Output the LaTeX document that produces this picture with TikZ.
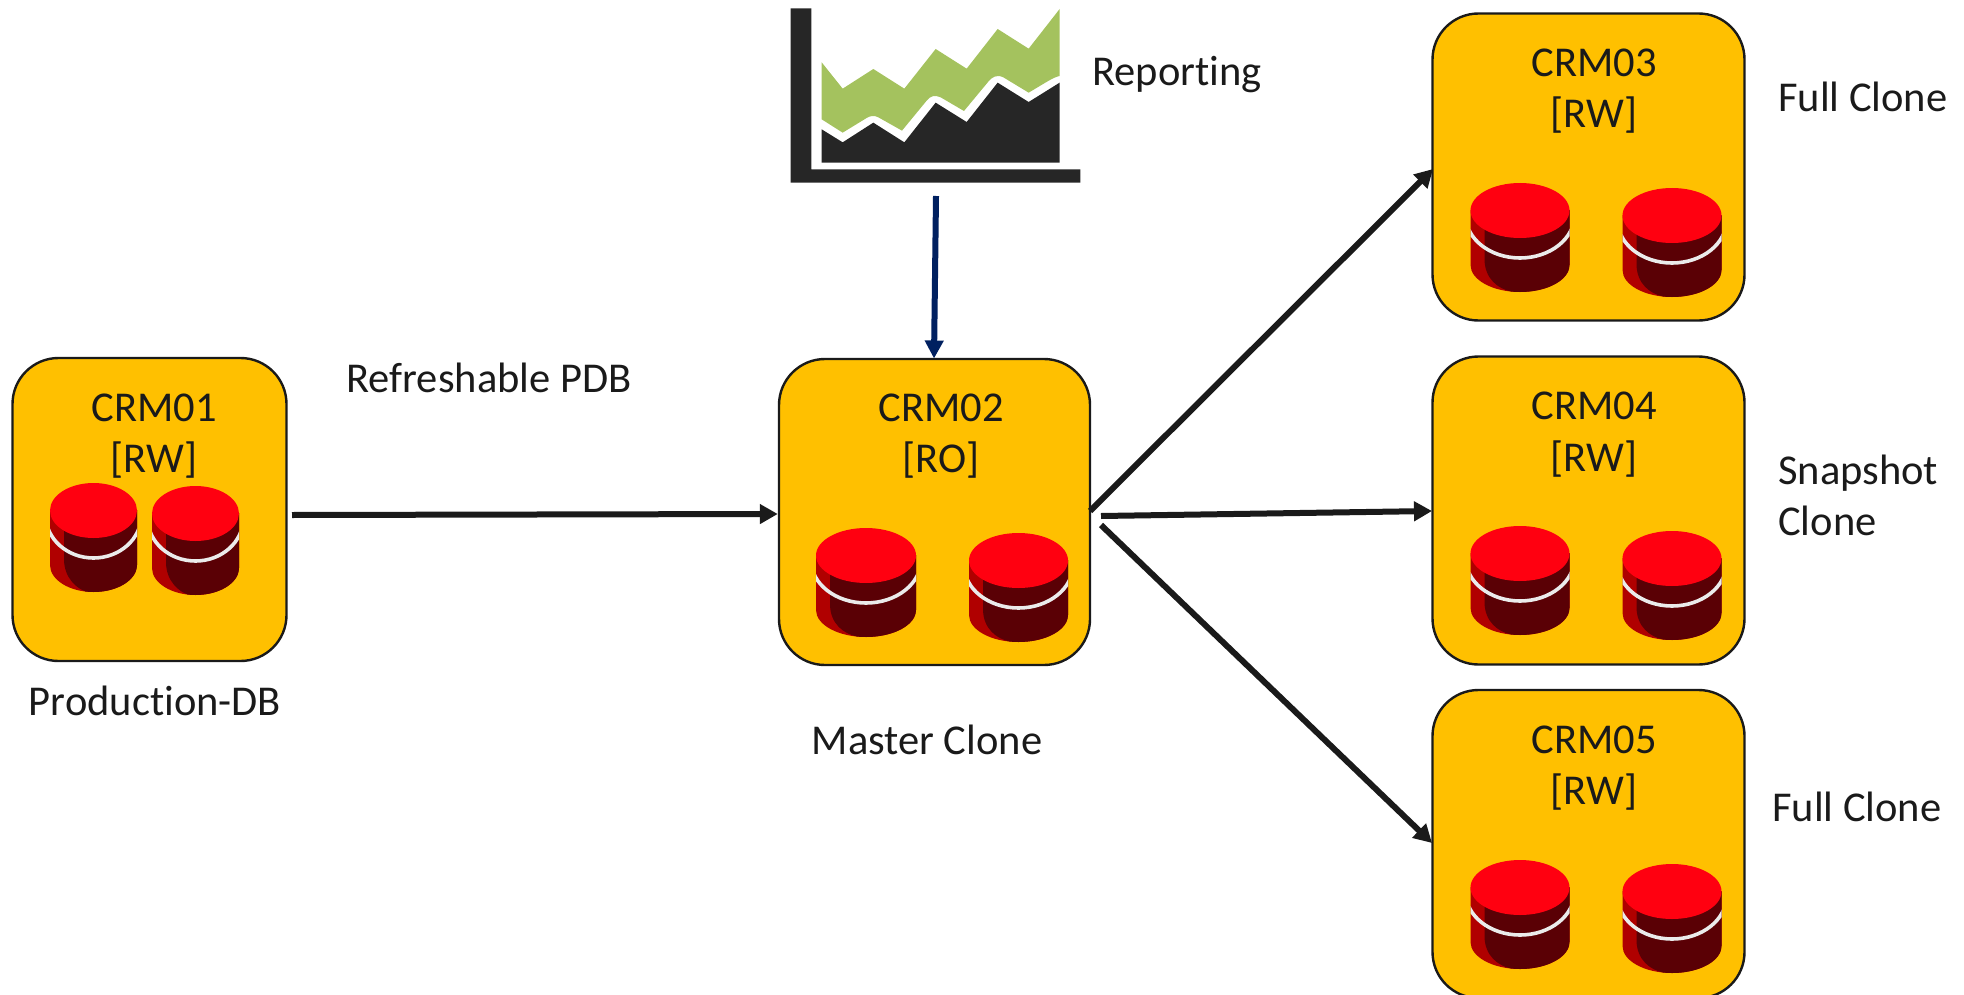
\documentclass[tikz,border=0pt]{standalone}
\usepackage{fontspec}
\setmainfont[Ligatures=NoCommon]{Carlito}
\usetikzlibrary{arrows.meta}
\definecolor{boxgold}{HTML}{FFC000}
\definecolor{inkdark}{HTML}{1A1A1A}
\definecolor{chartdark}{HTML}{262626}
\definecolor{chartgreen}{HTML}{A4C25E}
\definecolor{navyline}{HTML}{002060}
\definecolor{dbtop}{HTML}{FF0010}
\definecolor{dbstrip}{HTML}{B00000}
\definecolor{dbdark}{HTML}{5A0005}
\tikzset{
  x=1pt,y=1pt,
  dbbox/.style={draw=inkdark,line width=2.4pt,fill=boxgold,rounded corners=46pt,inner sep=0pt},
  boxtitle/.style={font=\fontsize{42.5}{51.5}\selectfont,text=inkdark,align=center,inner sep=0pt},
  caption/.style={font=\fontsize{42.5}{51}\selectfont,text=inkdark,inner sep=0pt},
  flow/.style={draw=inkdark,line width=6pt,-{Triangle[length=18pt,width=19pt]}},
  navyflow/.style={draw=navyline,line width=6pt,-{Triangle[length=18pt,width=18pt]}},
  pics/dbc/.style={code={
    \pgfmathsetmacro\wd{#1}
    \pgfmathsetmacro\hr{\wd/2}
    \pgfmathsetmacro\bandr{\hr*1.1}
    \fill[dbstrip] (0,-27) -- (\wd,-27) -- (\wd,-82) arc[start angle=0,end angle=-180,x radius=\hr,y radius=27] -- cycle;
    \fill[dbdark] (14,-27) -- (\wd,-27) -- (\wd,-82) arc[start angle=0,end angle=-100,x radius=\hr,y radius=27]
      .. controls (28,-106) and (14,-96) .. (14,-76) -- cycle;
    \begin{scope}
      \clip (0,-30) rectangle (\wd,-90);
      \draw[white!92!black,line width=3.6pt] (\hr,-32) ellipse[x radius=\bandr,y radius=43];
    \end{scope}
    \fill[dbtop] (\hr,-27.5) ellipse[x radius=\hr,y radius=27.5];
  }}
}
\begin{document}
\begin{tikzpicture}
\useasboundingbox (0,0) rectangle (1964,-995);

% chart
\begin{scope}[shift={(770,0)},x=0.3333pt,y=-0.3333pt]
  \fill[chartdark] (62,25) -- (124,25) -- (124,508) -- (931,508) -- (931,548) -- (62,548) -- cycle;
  \fill[chartgreen] (155,187) -- (218,266) -- (310,207) -- (403,266) -- (497,147) -- (590,206) -- (683,87) -- (776,146) -- (869,27)
    -- (869,228) .. controls (850,232) and (830,246) .. (776,278) -- (700,232) .. controls (680,222) and (665,232) .. (655,245)
    -- (582,333) -- (512,292) .. controls (495,284) and (480,288) .. (470,302) -- (396,392) -- (325,352) .. controls (312,345) and (300,348) .. (290,354)
    -- (218,398) -- (155,358) -- cycle;
  \fill[chartdark] (155,388) -- (218,427) -- (310,368) -- (403,427) -- (497,308) -- (590,366) -- (683,248) -- (776,306) -- (869,248) -- (869,488) -- (155,488) -- cycle;
\end{scope}

% boxes
\node[dbbox,minimum width=274pt,minimum height=303pt] (crm01) at (149.5,-509.5) {};
\node[dbbox,minimum width=311pt,minimum height=306pt] (crm02) at (934.5,-512) {};
\node[dbbox,minimum width=312pt,minimum height=307pt] (crm03) at (1588.5,-167) {};
\node[dbbox,minimum width=312pt,minimum height=308pt] (crm04) at (1588.5,-510.5) {};
\node[dbbox,minimum width=312pt,minimum height=308pt] (crm05) at (1588.5,-844) {};

% cylinders
\pic at (50,-483) {dbc=87};
\pic at (152,-486) {dbc=87};
\pic at (816,-528) {dbc=100};
\pic at (969,-533) {dbc=99};
\pic at (1470.5,-183) {dbc=99};
\pic at (1622.5,-188) {dbc=99};
\pic at (1470.5,-526) {dbc=99};
\pic at (1622.5,-531) {dbc=99};
\pic at (1470.5,-860) {dbc=99};
\pic at (1622.5,-864) {dbc=99};

% titles
\node[boxtitle] (t01) at (154,-436) {CRM01\\{}[RW]};
\node[boxtitle] (t02) at (941,-436) {CRM02\\{}[RO]};
\node[boxtitle] (t03) at (1594,-91) {CRM03\\{}[RW]};
\node[boxtitle] (t04) at (1594,-434.5) {CRM04\\{}[RW]};
\node[boxtitle] (t05) at (1594,-768) {CRM05\\{}[RW]};

% captions
\node[caption] (prod) at (155,-701) {Production-DB};
\node[caption] (refr) at (489,-378) {Refreshable PDB};
\node[caption] (mast) at (927,-740) {Master Clone};
\node[caption,anchor=west] (repo) at (1092,-75) {Reporting};
\node[caption,anchor=west] (fc1) at (1778,-97) {Full Clone};
\node[caption,anchor=north west,align=left] (snap) at (1778,-455) {Snapshot\\Clone};
\node[caption,anchor=west] (fc2) at (1772,-807) {Full Clone};

% connector ends
\coordinate (a1) at (292,-515);
\coordinate (a2) at (crm02.west |- 0,-514);
\coordinate (b1) at (1090,-511);
\coordinate (b2) at (1433,-169);
\coordinate (c1) at (1101,-516);
\coordinate (c2) at (1432,-511);
\coordinate (d1) at (1101,-525);
\coordinate (d2) at (1432,-843);
\coordinate (e1) at (936,-196);
\coordinate (e2) at (934,-358.5);

\draw[flow] (a1) -- (a2);
\draw[flow] (b1) -- (b2);
\draw[flow] (c1) -- (c2);
\draw[flow] (d1) -- (d2);
\draw[navyflow] (e1) -- (e2);
\end{tikzpicture}
\end{document}
